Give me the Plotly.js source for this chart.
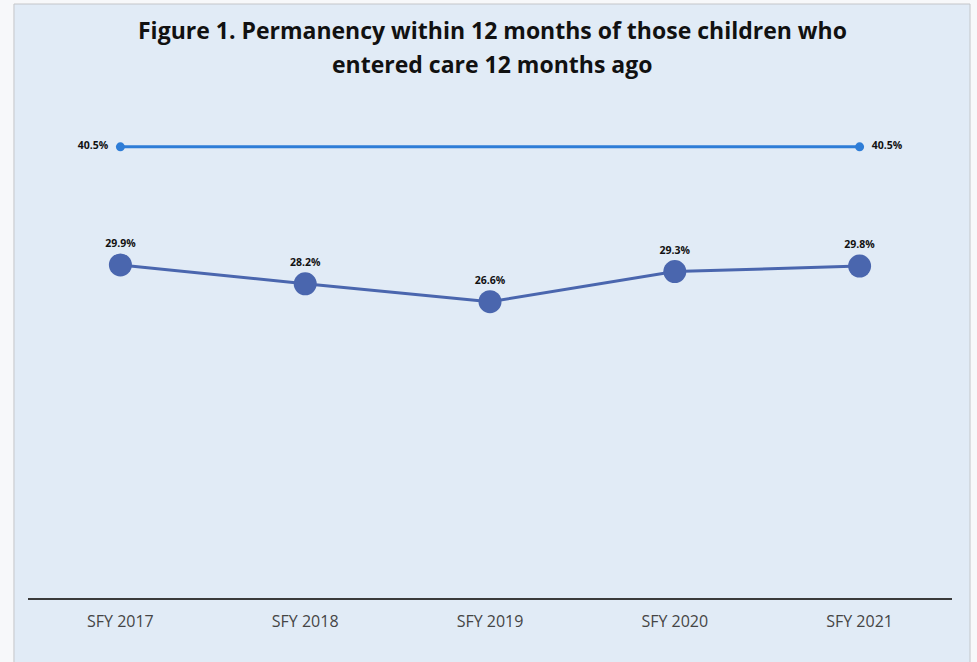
<!DOCTYPE html>
<html>
<head>
<meta charset="utf-8">
<script src="https://cdn.plot.ly/plotly-3.0.1.min.js"></script>
<style>html,body{margin:0;padding:0;background:#f7f8fa;}#chart{width:977px;height:662px;}</style>
</head>
<body>
<div id="chart"></div>
<script>
var categories = ["SFY 2017", "SFY 2018", "SFY 2019", "SFY 2020", "SFY 2021"];
var permanency = [29.9, 28.2, 26.6, 29.3, 29.8];
var targetCategories = ["SFY 2017", "SFY 2021"];
var targetValues = [40.5, 40.5];
var titleLines = ["Figure 1. Permanency within 12 months of those children who", "entered care 12 months ago"];

function pct(v) { return v.toFixed(1) + "%"; }

var labelFont = {family: "Open Sans, sans-serif", size: 10.5, color: "#111111", weight: 700};
var pad = "\u00a0\u00a0";

var traces = [
  {
    x: categories, y: permanency, type: "scatter", mode: "lines+markers+text",
    line: {color: "#4a66ae", width: 3},
    marker: {color: "#4a66ae", size: 23},
    text: permanency.map(pct),
    textposition: "top center",
    textfont: labelFont,
    cliponaxis: false, hoverinfo: "skip"
  },
  {
    x: targetCategories, y: targetValues, type: "scatter", mode: "lines+markers+text",
    line: {color: "#2e7dd7", width: 3},
    marker: {color: "#2e7dd7", size: 9},
    text: [pct(targetValues[0]) + pad, pad + pct(targetValues[1])],
    textposition: ["middle left", "middle right"],
    textfont: labelFont,
    cliponaxis: false, hoverinfo: "skip"
  }
];

var titleFont = {family: "Open Sans, sans-serif", size: 23, color: "#111111", weight: 700};

var layout = {
  width: 977, height: 662,
  margin: {l: 28, r: 25, t: 41, b: 64},
  paper_bgcolor: "#f7f8fa",
  plot_bgcolor: "rgba(0,0,0,0)",
  showlegend: false,
  xaxis: {
    type: "category", categoryorder: "array", categoryarray: categories,
    range: [-0.5, 4.5], fixedrange: true,
    showgrid: false, zeroline: false, showline: true, linecolor: "#3a3a3a", linewidth: 2,
    ticks: "", ticklabelstandoff: 8,
    tickfont: {family: "Open Sans, sans-serif", size: 16, color: "#454545"}
  },
  yaxis: {
    range: [0, 50], showgrid: false, zeroline: false, showline: false,
    showticklabels: false, ticks: "", fixedrange: true
  },
  annotations: [
    {text: titleLines[0], xref: "paper", yref: "paper", x: 0.5025, y: (598 - 30) / 557,
     xanchor: "center", yanchor: "middle", showarrow: false, font: titleFont},
    {text: titleLines[1], xref: "paper", yref: "paper", x: 0.5025, y: (598 - 64) / 557,
     xanchor: "center", yanchor: "middle", showarrow: false, font: titleFont}
  ],
  shapes: [
    {type: "rect", xref: "paper", yref: "paper", x0: -0.0152, x1: 1.0195, y0: -0.2, y1: 1.0664,
     fillcolor: "#e1ebf6", line: {color: "#c4c6c9", width: 1}, layer: "below"}
  ]
};

Plotly.newPlot("chart", traces, layout, {displayModeBar: false, staticPlot: true});
</script>
</body>
</html>
